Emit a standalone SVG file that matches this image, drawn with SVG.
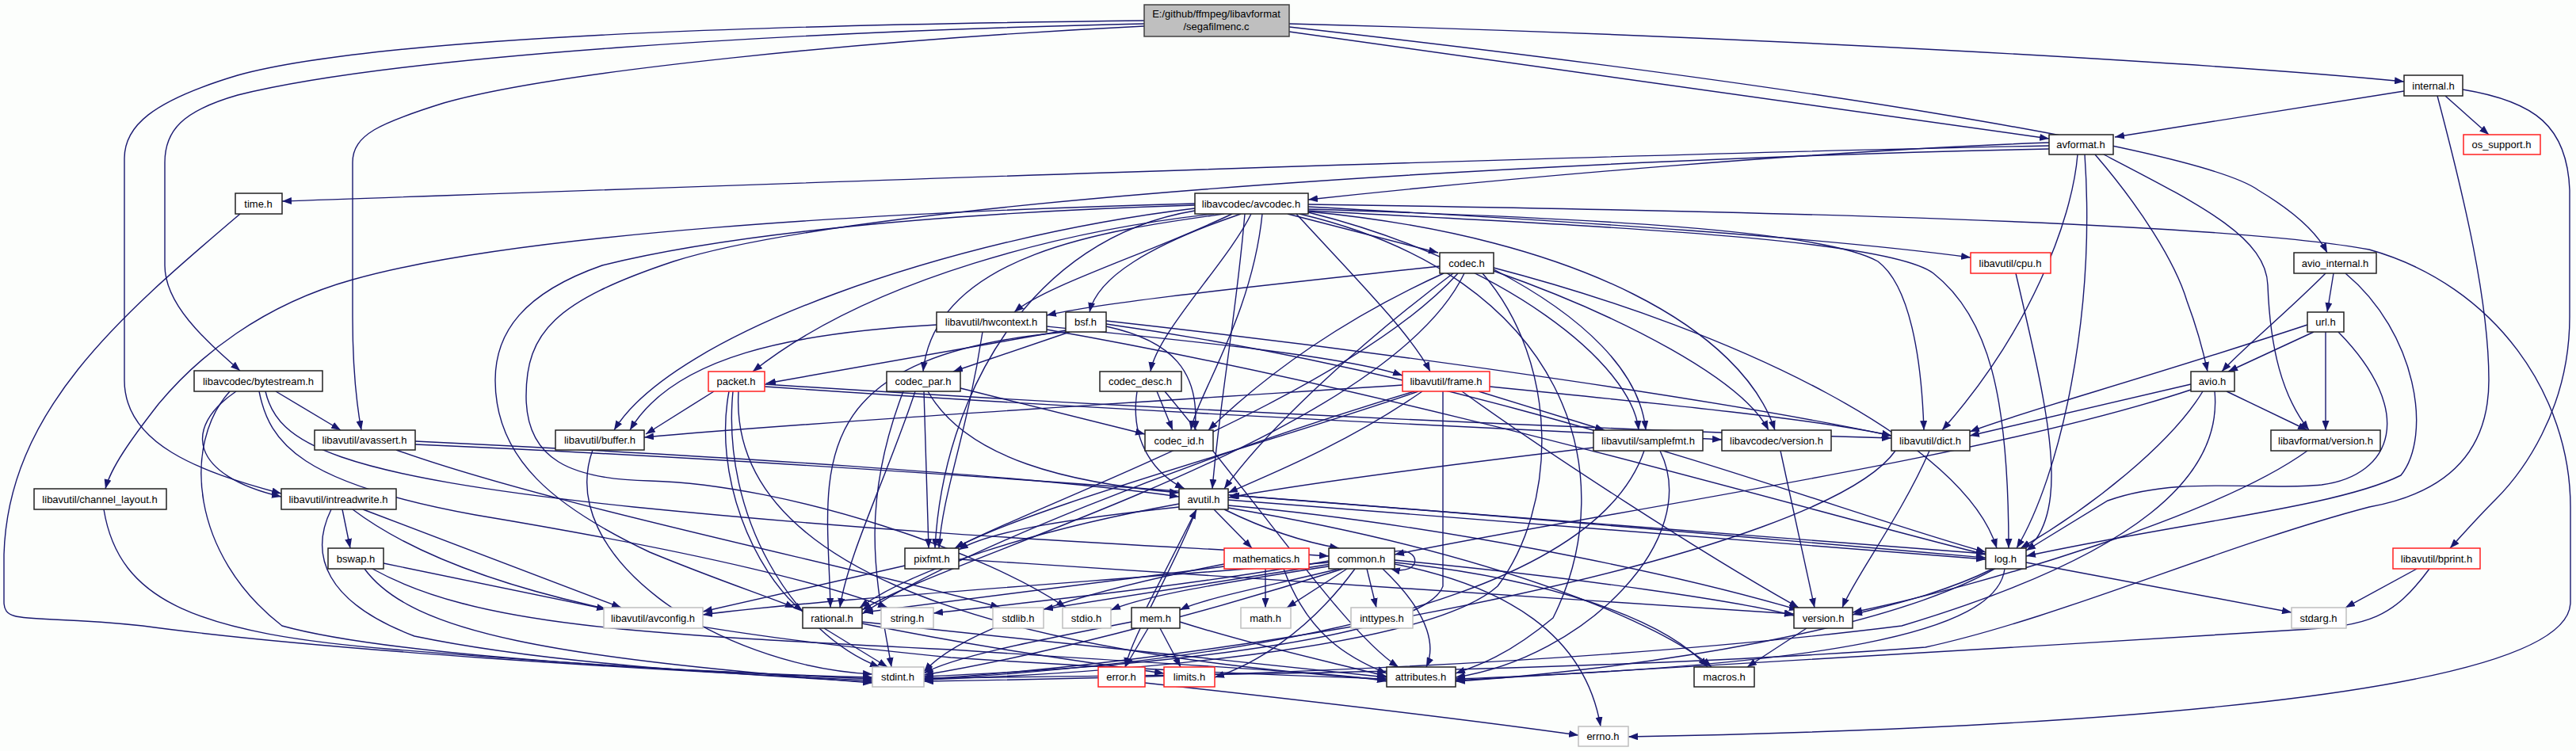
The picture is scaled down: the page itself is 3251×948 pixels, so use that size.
<svg xmlns="http://www.w3.org/2000/svg" width="3251" height="948" viewBox="0 0 3251 948">
<defs>
<marker id="a" markerWidth="12" markerHeight="9" refX="12" refY="4.5" orient="auto" markerUnits="userSpaceOnUse"><path d="M0,0 L12,4.5 L0,9 z" fill="#191970"/></marker>
<style>
.e{fill:none;stroke:#191970;stroke-width:1.4;marker-end:url(#a)}
.n rect{fill:#ffffff;stroke:#222222;stroke-width:1.5}
.r rect{fill:#ffffff;stroke:#ff2020;stroke-width:1.5}
.g rect{fill:#ffffff;stroke:#bfbfbf;stroke-width:1.5}
.m rect{fill:#bfbfbf;stroke:#404040;stroke-width:1.5}
text{font-family:"Liberation Sans",Arial,sans-serif;font-size:13px;fill:#000;text-anchor:middle}
</style>
</defs>
<rect width="3251" height="948" fill="#fcfefc"/>
<g id="edges">
<path class="e" d="M1444,26 C1100,30 500,40 300,95 C190,128 157,160 157,200 L157,480 C157,560 250,595 355,623"/>
<path class="e" d="M1444,30 C1000,40 500,70 300,120 C230,140 208,165 208,205 L208,335 C208,385 260,430 303,468"/>
<path class="e" d="M1444,33 C1100,50 700,90 560,130 C480,155 445,170 445,205 L445,400 C445,470 450,510 456,543"/>
<path class="e" d="M1627,40 L2586,175"/>
<path class="e" d="M1627,30 C2200,45 2800,80 3034,103"/>
<path class="e" d="M1627,34 C2300,110 2780,190 2850,240 C2900,270 2925,295 2937,319"/>
<path class="e" d="M2586,184 C2000,195 900,235 356,254"/>
<path class="e" d="M2586,188 C2000,200 1100,250 850,330 C700,380 664,420 664,500 C664,580 720,605 820,607 C1000,612 1250,700 1345,767"/>
<path class="e" d="M2586,180 C2300,190 1900,225 1651,252"/>
<path class="e" d="M2622,195 C2615,280 2560,420 2451,543"/>
<path class="e" d="M2631,195 C2645,400 2600,600 2545,692"/>
<path class="e" d="M2644,195 C2700,260 2745,330 2760,380 C2775,420 2782,450 2786,469"/>
<path class="e" d="M2655,195 C2780,260 2860,300 2862,360 C2865,440 2880,500 2914,543"/>
<path class="e" d="M3034,115 L2669,173"/>
<path class="e" d="M3086,121 L3141,170"/>
<path class="e" d="M3108,113 C3200,128 3240,160 3243,240 L3243,400 C3243,520 3180,600 3150,630 C3125,655 3105,678 3092,692"/>
<path class="e" d="M3076,121 C3110,250 3141,380 3141,480 C3141,560 3100,620 2990,640 C2800,690 2600,780 2430,817 C2000,850 1400,853 1166,856"/>
<path class="e" d="M1651,258 C2200,266 2800,280 2990,315 C3150,360 3244,500 3244,640 L3244,760 C3244,880 2600,920 2055,930"/>
<path class="e" d="M1651,261 C2000,280 2300,300 2487,325"/>
<path class="e" d="M1651,264 C2000,275 2300,290 2370,330 C2410,360 2425,450 2428,543"/>
<path class="e" d="M1651,266 C2000,285 2380,300 2440,345 C2510,400 2535,500 2535,692"/>
<path class="e" d="M1651,268 C1900,330 2060,460 2068,543"/>
<path class="e" d="M1651,267 C2000,300 2200,420 2240,543"/>
<path class="e" d="M1640,270 C1980,350 2050,600 1960,780 C1900,830 1860,842 1837,850"/>
<path class="e" d="M1636,270 C1700,340 1780,420 1805,469"/>
<path class="e" d="M1625,270 L1815,319"/>
<path class="e" d="M1593,270 C1580,400 1510,500 1503,543"/>
<path class="e" d="M1579,270 C1550,330 1460,420 1452,469"/>
<path class="e" d="M1571,270 C1560,400 1540,500 1530,617"/>
<path class="e" d="M1566,270 C1450,310 1385,350 1375,394"/>
<path class="e" d="M1555,270 C1450,320 1320,360 1280,394"/>
<path class="e" d="M1545,270 C1400,290 1180,320 1165,469"/>
<path class="e" d="M1532,270 C1350,290 1100,350 950,469"/>
<path class="e" d="M1508,263 C1200,300 850,420 775,543"/>
<path class="e" d="M1508,266 C1300,300 1190,500 1180,692"/>
<path class="e" d="M1508,259 C1150,270 900,300 760,335 C660,370 625,420 625,480 C625,580 700,640 820,697 C900,730 960,750 1003,767"/>
<path class="e" d="M1508,257 C1100,268 650,295 445,353 C330,385 250,450 200,510 C165,555 140,590 133,617"/>
<path class="e" d="M1817,336 C1600,360 1400,380 1321,398"/>
<path class="e" d="M1822,345 C1700,400 1600,470 1525,543"/>
<path class="e" d="M1834,345 C1720,430 1600,540 1545,617"/>
<path class="e" d="M1840,345 C1700,500 1300,640 1205,692"/>
<path class="e" d="M1848,345 C1750,550 1200,700 1088,770"/>
<path class="e" d="M1871,345 C1970,460 1965,640 1890,740 C1800,820 1400,850 1166,858"/>
<path class="e" d="M1885,340 C2000,400 2070,470 2077,543"/>
<path class="e" d="M1885,342 C2050,400 2200,480 2232,543"/>
<path class="e" d="M1885,338 C2200,420 2480,560 2520,692"/>
<path class="e" d="M348,494 L430,543"/>
<path class="e" d="M298,494 C230,540 240,600 355,627"/>
<path class="e" d="M290,494 C230,560 240,700 356,790 C500,830 900,850 1101,855"/>
<path class="e" d="M327,494 C340,560 380,610 600,650 C900,700 1050,740 1120,767"/>
<path class="e" d="M335,494 C350,560 420,600 800,640 C1200,680 1500,690 1677,702"/>
<path class="e" d="M524,557 C900,575 1300,600 1488,627"/>
<path class="e" d="M524,561 C1200,590 2000,660 2506,704"/>
<path class="e" d="M500,568 C700,640 1100,720 1262,767"/>
<path class="e" d="M748,568 C700,700 900,840 1101,851"/>
<path class="e" d="M131,643 C150,760 250,800 500,820 C800,845 1000,852 1101,857"/>
<path class="e" d="M303,270 C150,400 10,520 5,700 L5,760 C5,790 40,775 180,790 C400,820 800,845 1101,859"/>
<path class="e" d="M432,643 L442,692"/>
<path class="e" d="M418,643 C390,700 410,760 523,803 C700,840 950,852 1101,861"/>
<path class="e" d="M458,643 L784,767"/>
<path class="e" d="M445,643 C600,760 900,800 1200,830 C1500,850 1700,855 1750,857"/>
<path class="e" d="M484,711 L765,769"/>
<path class="e" d="M460,718 C520,800 700,830 1101,862"/>
<path class="e" d="M470,718 C600,790 800,800 1200,820 C1500,840 1700,850 1750,860"/>
<path class="e" d="M1182,410 C1000,420 850,450 795,543"/>
<path class="e" d="M1321,412 C1500,430 1700,450 1770,474"/>
<path class="e" d="M1321,416 C1800,500 2300,650 2506,700"/>
<path class="e" d="M1240,419 C1220,550 1190,620 1185,692"/>
<path class="e" d="M1345,417 L967,484"/>
<path class="e" d="M1350,419 L1203,469"/>
<path class="e" d="M1396,412 C1480,430 1515,470 1508,543"/>
<path class="e" d="M1396,405 C1800,450 2200,510 2387,550"/>
<path class="e" d="M1396,409 C1900,480 2300,640 2506,697"/>
<path class="e" d="M1345,419 C1000,450 1045,600 1048,767"/>
<path class="e" d="M2920,419 L2812,469"/>
<path class="e" d="M2935,419 L2935,543"/>
<path class="e" d="M2912,410 C2700,480 2550,520 2486,545"/>
<path class="e" d="M2951,419 C3050,520 3020,600 2930,612 C2850,620 2750,600 2660,632 L2557,695"/>
<path class="e" d="M2935,345 C2880,400 2830,440 2804,469"/>
<path class="e" d="M2945,345 L2937,394"/>
<path class="e" d="M2960,345 C3050,420 3070,550 3030,600 C2950,640 2750,660 2557,702"/>
<path class="e" d="M2765,485 L2486,550"/>
<path class="e" d="M2810,494 L2912,543"/>
<path class="e" d="M2765,492 C2500,580 2000,650 1760,700"/>
<path class="e" d="M2780,494 C2740,560 2640,640 2550,692"/>
<path class="e" d="M2795,494 C2805,600 2700,700 2400,790 C2000,840 1500,855 1166,860"/>
<path class="e" d="M2912,569 C2800,650 2500,740 2338,773"/>
<path class="e" d="M901,494 L815,548"/>
<path class="e" d="M965,485 C1500,520 2100,545 2387,553"/>
<path class="e" d="M965,488 C1500,525 2000,545 2173,555"/>
<path class="e" d="M920,494 C900,600 950,720 1013,772"/>
<path class="e" d="M925,494 C910,650 1000,800 1110,842"/>
<path class="e" d="M932,494 C920,700 1200,820 1750,858"/>
<path class="e" d="M1212,490 L1445,548"/>
<path class="e" d="M1171,494 C1220,580 1350,610 1488,622"/>
<path class="e" d="M1166,494 L1172,692"/>
<path class="e" d="M1155,494 C1120,600 1070,700 1060,767"/>
<path class="e" d="M1140,494 C1080,650 1110,750 1125,842"/>
<path class="e" d="M1460,494 L1480,543"/>
<path class="e" d="M1435,494 C1425,560 1460,600 1495,617"/>
<path class="e" d="M1470,494 C1600,650 1700,800 1765,842"/>
<path class="e" d="M1866,494 L2025,543"/>
<path class="e" d="M1880,488 C2100,510 2300,530 2387,550"/>
<path class="e" d="M1770,486 C1400,510 1000,535 813,552"/>
<path class="e" d="M1795,494 C1700,560 1600,600 1550,622"/>
<path class="e" d="M1790,494 C1600,560 1300,640 1205,692"/>
<path class="e" d="M1785,494 C1500,580 1200,700 1088,775"/>
<path class="e" d="M1821,494 L1821,740 C1800,800 1500,840 1166,854"/>
<path class="e" d="M1845,494 C1950,570 2150,700 2270,767"/>
<path class="e" d="M2011,565 C1800,590 1650,610 1550,628"/>
<path class="e" d="M2075,569 C2030,700 1800,820 1166,858"/>
<path class="e" d="M2095,569 C2150,680 2000,830 1837,855"/>
<path class="e" d="M2247,569 L2290,767"/>
<path class="e" d="M2392,569 C2300,700 1600,830 1166,857"/>
<path class="e" d="M2435,569 C2400,650 2340,730 2325,767"/>
<path class="e" d="M1545,643 C1600,670 1650,685 1690,692"/>
<path class="e" d="M1510,643 C1480,720 1430,800 1420,842"/>
<path class="e" d="M1488,636 C1300,670 1150,720 1085,767"/>
<path class="e" d="M1550,638 C1800,660 2100,720 2270,770"/>
<path class="e" d="M1550,641 C1900,700 2100,790 2160,842"/>
<path class="e" d="M1532,643 L1580,692"/>
<path class="e" d="M1550,631 L2506,706"/>
<path class="e" d="M1488,640 C1350,655 1250,670 1210,694"/>
<path class="e" d="M2506,699 L1552,625"/>
<path class="e" d="M1142,714 L887,772"/>
<path class="e" d="M1210,706 C1600,730 2000,760 2264,775"/>
<path class="e" d="M1597,718 L1597,767"/>
<path class="e" d="M1545,712 C1300,760 1200,810 1166,848"/>
<path class="e" d="M1620,718 C1650,800 1700,830 1750,850"/>
<path class="e" d="M1545,715 L1090,773"/>
<path class="e" d="M1760,696 C1795,690 1795,728 1755,718"/>
<path class="e" d="M1677,708 C1500,740 1300,760 1178,774"/>
<path class="e" d="M1680,712 C1500,740 1400,755 1317,769"/>
<path class="e" d="M1682,714 C1550,735 1450,750 1402,770"/>
<path class="e" d="M1690,718 C1600,740 1520,755 1489,770"/>
<path class="e" d="M1700,718 L1624,767"/>
<path class="e" d="M1725,718 L1737,767"/>
<path class="e" d="M1710,718 C1650,800 1580,840 1533,855"/>
<path class="e" d="M1695,718 C1500,780 1300,830 1166,852"/>
<path class="e" d="M1760,712 C1900,740 2000,800 2020,917"/>
<path class="e" d="M1745,718 C1810,780 1810,820 1800,842"/>
<path class="e" d="M1760,710 C1950,730 2100,780 2155,842"/>
<path class="e" d="M1760,707 C2000,730 2200,760 2264,777"/>
<path class="e" d="M1677,710 C1300,740 1000,760 887,776"/>
<path class="e" d="M2557,710 L2892,773"/>
<path class="e" d="M2530,718 C2520,800 2300,840 1837,857"/>
<path class="e" d="M2515,718 C2450,750 2380,765 2338,776"/>
<path class="e" d="M3050,718 L2960,767"/>
<path class="e" d="M3066,718 C3020,780 2990,790 2900,795 C2500,820 2000,850 1837,859"/>
<path class="e" d="M1040,793 L1120,842"/>
<path class="e" d="M1088,787 C1250,820 1400,840 1469,850"/>
<path class="e" d="M1088,785 C1400,820 1600,840 1750,855"/>
<path class="e" d="M1447,767 L1510,643"/>
<path class="e" d="M1449,793 L1420,842"/>
<path class="e" d="M1464,793 L1490,842"/>
<path class="e" d="M1428,785 C1300,810 1200,830 1166,850"/>
<path class="e" d="M1489,785 C1600,820 1700,840 1750,854"/>
<path class="e" d="M2280,793 L2205,842"/>
<path class="e" d="M1445,862 C1700,890 1900,915 1992,928"/>
<path class="e" d="M2544,345 C2580,500 2610,620 2570,680 C2450,800 2000,850 1837,860"/>
</g>
<g id="n_main" class="m"><rect x="1444" y="6" width="183" height="40"/><text x="1535" y="22">E:/github/ffmpeg/libavformat</text><text x="1535" y="38">/segafilmenc.c</text></g>
<g id="n_time" class="n"><rect x="297" y="244" width="59" height="26"/><text x="326" y="262">time.h</text></g>
<g id="n_avformat" class="n"><rect x="2586" y="170" width="81" height="25"/><text x="2626" y="187">avformat.h</text></g>
<g id="n_internal" class="n"><rect x="3034" y="95" width="74" height="26"/><text x="3071" y="113">internal.h</text></g>
<g id="n_os_support" class="r"><rect x="3109" y="170" width="97" height="25"/><text x="3157" y="187">os_support.h</text></g>
<g id="n_avcodec" class="n"><rect x="1508" y="244" width="143" height="26"/><text x="1579" y="262">libavcodec/avcodec.h</text></g>
<g id="n_cpu" class="r"><rect x="2487" y="319" width="101" height="26"/><text x="2537" y="337">libavutil/cpu.h</text></g>
<g id="n_avio_internal" class="n"><rect x="2895" y="319" width="104" height="26"/><text x="2947" y="337">avio_internal.h</text></g>
<g id="n_codec" class="n"><rect x="1817" y="319" width="68" height="26"/><text x="1851" y="337">codec.h</text></g>
<g id="n_bytestream" class="n"><rect x="245" y="468" width="162" height="26"/><text x="326" y="486">libavcodec/bytestream.h</text></g>
<g id="n_hwcontext" class="n"><rect x="1182" y="394" width="139" height="25"/><text x="1251" y="411">libavutil/hwcontext.h</text></g>
<g id="n_bsf" class="n"><rect x="1345" y="394" width="51" height="25"/><text x="1370" y="411">bsf.h</text></g>
<g id="n_url" class="n"><rect x="2912" y="394" width="46" height="25"/><text x="2935" y="411">url.h</text></g>
<g id="n_packet" class="r"><rect x="894" y="469" width="71" height="25"/><text x="929" y="486">packet.h</text></g>
<g id="n_codec_par" class="n"><rect x="1119" y="469" width="93" height="25"/><text x="1165" y="486">codec_par.h</text></g>
<g id="n_codec_desc" class="n"><rect x="1388" y="469" width="103" height="25"/><text x="1439" y="486">codec_desc.h</text></g>
<g id="n_frame" class="r"><rect x="1770" y="469" width="110" height="25"/><text x="1825" y="486">libavutil/frame.h</text></g>
<g id="n_avio" class="n"><rect x="2765" y="469" width="55" height="25"/><text x="2792" y="486">avio.h</text></g>
<g id="n_avassert" class="n"><rect x="397" y="543" width="127" height="25"/><text x="460" y="560">libavutil/avassert.h</text></g>
<g id="n_buffer" class="n"><rect x="701" y="543" width="112" height="25"/><text x="757" y="560">libavutil/buffer.h</text></g>
<g id="n_codec_id" class="n"><rect x="1445" y="543" width="86" height="26"/><text x="1488" y="561">codec_id.h</text></g>
<g id="n_samplefmt" class="n"><rect x="2011" y="543" width="138" height="26"/><text x="2080" y="561">libavutil/samplefmt.h</text></g>
<g id="n_lavc_version" class="n"><rect x="2173" y="543" width="138" height="26"/><text x="2242" y="561">libavcodec/version.h</text></g>
<g id="n_dict" class="n"><rect x="2387" y="543" width="99" height="26"/><text x="2436" y="561">libavutil/dict.h</text></g>
<g id="n_lavf_version" class="n"><rect x="2866" y="543" width="138" height="26"/><text x="2935" y="561">libavformat/version.h</text></g>
<g id="n_channel_layout" class="n"><rect x="43" y="617" width="167" height="26"/><text x="126" y="635">libavutil/channel_layout.h</text></g>
<g id="n_intreadwrite" class="n"><rect x="355" y="617" width="145" height="26"/><text x="427" y="635">libavutil/intreadwrite.h</text></g>
<g id="n_avutil" class="n"><rect x="1488" y="617" width="62" height="26"/><text x="1519" y="635">avutil.h</text></g>
<g id="n_bswap" class="n"><rect x="414" y="692" width="70" height="26"/><text x="449" y="710">bswap.h</text></g>
<g id="n_pixfmt" class="n"><rect x="1142" y="692" width="68" height="26"/><text x="1176" y="710">pixfmt.h</text></g>
<g id="n_mathematics" class="r"><rect x="1545" y="692" width="107" height="26"/><text x="1598" y="710">mathematics.h</text></g>
<g id="n_common" class="n"><rect x="1677" y="692" width="83" height="26"/><text x="1718" y="710">common.h</text></g>
<g id="n_log" class="n"><rect x="2506" y="692" width="51" height="26"/><text x="2531" y="710">log.h</text></g>
<g id="n_bprint" class="r"><rect x="3020" y="692" width="110" height="26"/><text x="3075" y="710">libavutil/bprint.h</text></g>
<g id="n_avconfig" class="g"><rect x="762" y="767" width="125" height="26"/><text x="824" y="785">libavutil/avconfig.h</text></g>
<g id="n_rational" class="n"><rect x="1013" y="767" width="75" height="26"/><text x="1050" y="785">rational.h</text></g>
<g id="n_string" class="g"><rect x="1112" y="767" width="66" height="26"/><text x="1145" y="785">string.h</text></g>
<g id="n_stdlib" class="g"><rect x="1253" y="767" width="64" height="26"/><text x="1285" y="785">stdlib.h</text></g>
<g id="n_stdio" class="g"><rect x="1341" y="767" width="61" height="26"/><text x="1371" y="785">stdio.h</text></g>
<g id="n_mem" class="n"><rect x="1428" y="767" width="61" height="26"/><text x="1458" y="785">mem.h</text></g>
<g id="n_math" class="g"><rect x="1566" y="767" width="63" height="26"/><text x="1597" y="785">math.h</text></g>
<g id="n_inttypes" class="g"><rect x="1705" y="767" width="78" height="26"/><text x="1744" y="785">inttypes.h</text></g>
<g id="n_lavu_version" class="n"><rect x="2264" y="767" width="74" height="26"/><text x="2301" y="785">version.h</text></g>
<g id="n_stdarg" class="g"><rect x="2892" y="767" width="69" height="26"/><text x="2926" y="785">stdarg.h</text></g>
<g id="n_stdint" class="g"><rect x="1101" y="842" width="65" height="25"/><text x="1133" y="859">stdint.h</text></g>
<g id="n_error" class="r"><rect x="1386" y="842" width="59" height="25"/><text x="1415" y="859">error.h</text></g>
<g id="n_limits" class="r"><rect x="1469" y="842" width="64" height="25"/><text x="1501" y="859">limits.h</text></g>
<g id="n_attributes" class="n"><rect x="1750" y="842" width="87" height="25"/><text x="1793" y="859">attributes.h</text></g>
<g id="n_macros" class="n"><rect x="2138" y="842" width="76" height="25"/><text x="2176" y="859">macros.h</text></g>
<g id="n_errno" class="g"><rect x="1992" y="917" width="63" height="25"/><text x="2023" y="934">errno.h</text></g>
</svg>
